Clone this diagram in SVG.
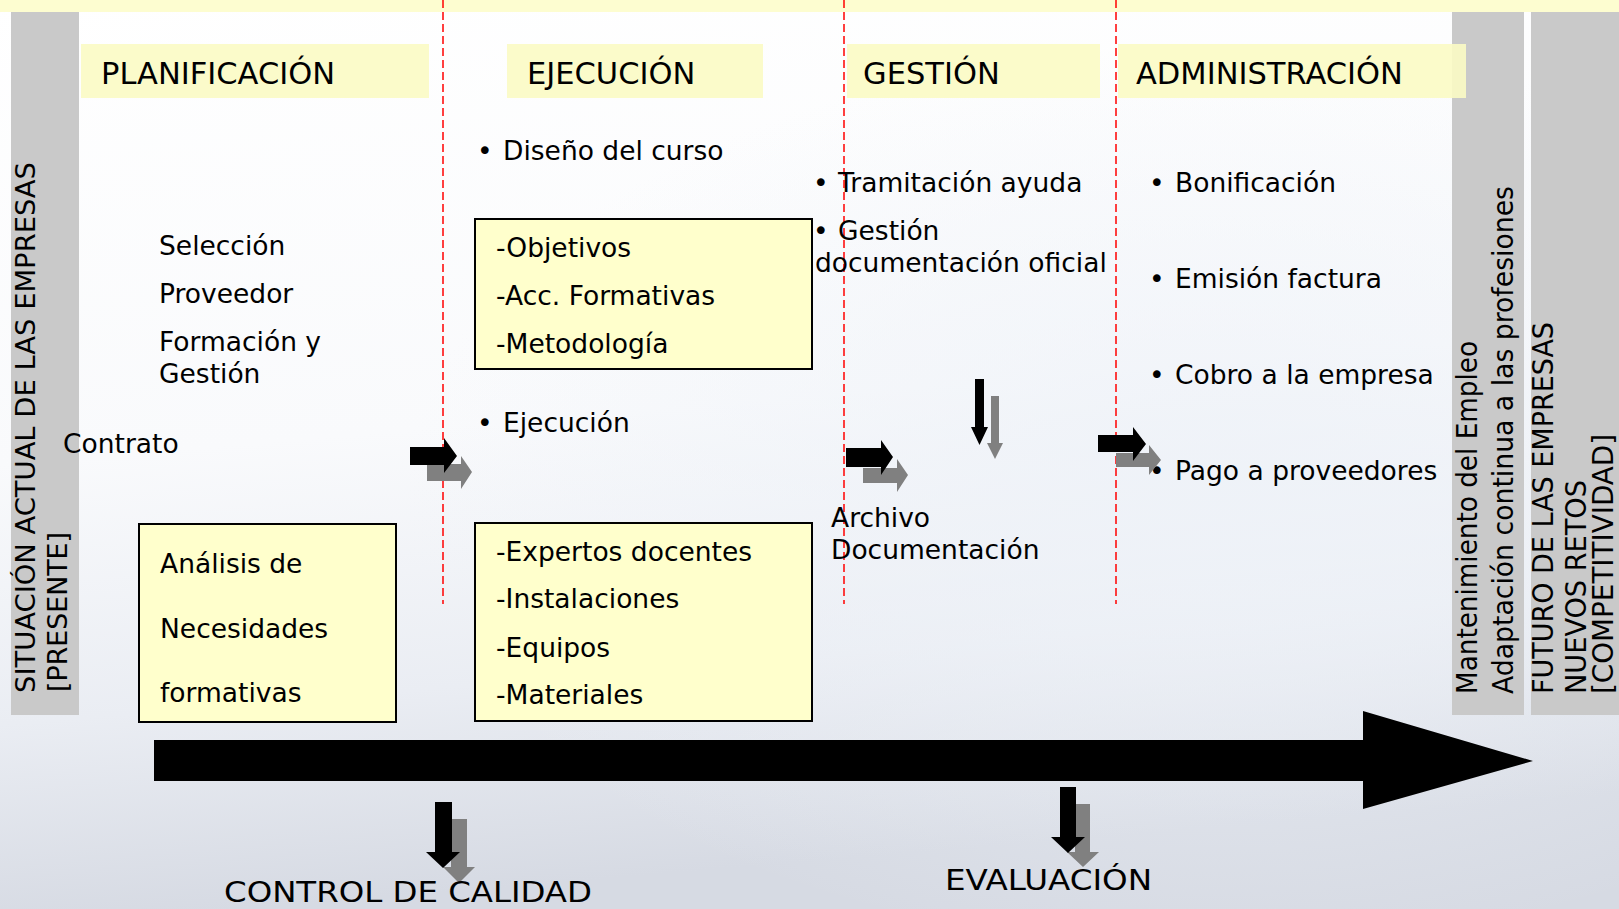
<svg xmlns="http://www.w3.org/2000/svg" width="1619" height="909" viewBox="0 0 1619 909">
<defs>
<linearGradient id="bg" x1="0" y1="0" x2="0.15" y2="1">
<stop offset="0" stop-color="#ffffff"/>
<stop offset="0.5" stop-color="#f9fafc"/>
<stop offset="0.78" stop-color="#eaedf3"/>
<stop offset="1" stop-color="#d6dae3"/>
</linearGradient>
<radialGradient id="glow" cx="0.75" cy="0.55" r="0.5">
<stop offset="0" stop-color="#eef2f8" stop-opacity="0.9"/>
<stop offset="1" stop-color="#eef2f8" stop-opacity="0"/>
</radialGradient>
<style>
.t{font-family:"DejaVu Sans",Verdana,sans-serif;font-size:26.5px;fill:#000}
.h{font-family:"DejaVu Sans",Verdana,sans-serif;font-size:30.5px;fill:#000}
.n{font-family:"Liberation Sans Narrow","DejaVu Sans Condensed","Liberation Sans",sans-serif;font-size:29px;fill:#000}
.hdr{fill:#fbfbc4;fill-opacity:0.9}
.box{fill:#ffffcc;stroke:#000;stroke-width:2}
.bar{fill:#c9c9c9}
.dash{stroke:#ff0000;stroke-width:1.5;stroke-dasharray:8 4;fill:none}
.ab{fill:#000}
.ag{fill:#808080}
</style>
</defs>
<rect x="0" y="0" width="1619" height="909" fill="url(#bg)"/>
<rect x="0" y="0" width="1619" height="909" fill="url(#glow)"/>
<rect x="0" y="0" width="1619" height="12" fill="#fdfdd0"/>

<g id="bar-left">
<rect class="bar" x="11" y="12" width="68" height="703"/>
<text class="t" font-size="28" transform="translate(35,693) rotate(-90)" textLength="531" lengthAdjust="spacingAndGlyphs">SITUACIÓN ACTUAL DE LAS EMPRESAS</text>
<text class="t" font-size="28" transform="translate(67,692) rotate(-90)" textLength="160" lengthAdjust="spacingAndGlyphs">[PRESENTE]</text>
</g>

<g id="bar-right1">
<rect class="bar" x="1452" y="12" width="72" height="703"/>
<text class="n" transform="translate(1477,694) rotate(-90)" textLength="353" lengthAdjust="spacingAndGlyphs">Mantenimiento del Empleo</text>
<text class="n" transform="translate(1513,694) rotate(-90)" textLength="508" lengthAdjust="spacingAndGlyphs">Adaptación continua a las profesiones</text>
</g>
<g id="bar-right2">
<rect class="bar" x="1531" y="12" width="88" height="703"/>
<text class="n" transform="translate(1553,694) rotate(-90)" textLength="372" lengthAdjust="spacingAndGlyphs">FUTURO DE LAS EMPRESAS</text>
<text class="n" transform="translate(1586,694) rotate(-90)" textLength="214" lengthAdjust="spacingAndGlyphs">NUEVOS RETOS</text>
<text class="n" font-size="27" transform="translate(1613,694) rotate(-90)" textLength="260" lengthAdjust="spacingAndGlyphs">[COMPETITIVIDAD]</text>
</g>

<g id="hdr-planificacion"><rect class="hdr" x="81" y="44" width="348" height="54"/><text class="h" x="101" y="84">PLANIFICACIÓN</text></g>
<g id="hdr-ejecucion"><rect class="hdr" x="507" y="44" width="256" height="54"/><text class="h" x="527" y="84">EJECUCIÓN</text></g>
<g id="hdr-gestion"><rect class="hdr" x="847" y="44" width="253" height="54"/><text class="h" x="863" y="84">GESTIÓN</text></g>
<g id="hdr-administracion"><rect class="hdr" x="1118" y="44" width="348" height="54"/><text class="h" x="1136" y="84">ADMINISTRACIÓN</text></g>

<g id="dividers">
<line class="dash" x1="443" y1="0" x2="443" y2="604"/>
<line class="dash" x1="844" y1="0" x2="844" y2="604"/>
<line class="dash" x1="1116" y1="0" x2="1116" y2="604"/>
</g>

<g id="planificacion">
<text class="t" x="159" y="255">Selección</text>
<text class="t" x="159" y="303">Proveedor</text>
<text class="t" x="159" y="351">Formación y</text>
<text class="t" x="159" y="383">Gestión</text>
<text class="t" x="63" y="453">Contrato</text>
</g>
<g id="analisis">
<rect class="box" x="139" y="524" width="257" height="198"/>
<text class="t" x="160" y="573">Análisis de</text>
<text class="t" x="160" y="638">Necesidades</text>
<text class="t" x="160" y="702">formativas</text>
</g>

<g id="ejecucion">
<text class="t" x="477" y="160">•</text><text class="t" x="503" y="160">Diseño del curso</text>
<text class="t" x="477" y="432">•</text><text class="t" x="503" y="432">Ejecución</text>
</g>
<g id="box-objetivos">
<rect class="box" x="475" y="219" width="337" height="150"/>
<text class="t" x="496" y="257">-Objetivos</text>
<text class="t" x="496" y="305">-Acc. Formativas</text>
<text class="t" x="496" y="353">-Metodología</text>
</g>
<g id="box-recursos">
<rect class="box" x="475" y="523" width="337" height="198"/>
<text class="t" x="496" y="561">-Expertos docentes</text>
<text class="t" x="496" y="608">-Instalaciones</text>
<text class="t" x="496" y="657">-Equipos</text>
<text class="t" x="496" y="704">-Materiales</text>
</g>

<g id="gestion">
<text class="t" x="813" y="192">•</text><text class="t" x="838" y="192">Tramitación ayuda</text>
<text class="t" x="813" y="240">•</text><text class="t" x="838" y="240">Gestión</text>
<text class="t" x="815" y="272">documentación oficial</text>
<text class="t" x="831" y="527">Archivo</text>
<text class="t" x="831" y="559">Documentación</text>
</g>

<g id="administracion">
<text class="t" x="1149" y="192">•</text><text class="t" x="1175" y="192">Bonificación</text>
<text class="t" x="1149" y="288">•</text><text class="t" x="1175" y="288">Emisión factura</text>
<text class="t" x="1149" y="384">•</text><text class="t" x="1175" y="384">Cobro a la empresa</text>
<text class="t" x="1149" y="480">•</text><text class="t" x="1175" y="480">Pago a proveedores</text>
</g>

<g id="connectors">
<polygon class="ab" points="154,740 1363,740 1363,711 1533,761 1363,809 1363,781 154,781"/>
<polygon class="ag" points="427,464 461,464 461,456 472,472 461,489 461,481 427,481"/>
<polygon class="ab" points="410,447 444,447 444,438 457,456 444,473 444,465 410,465"/>
<polygon class="ag" points="863,468 897,468 897,459 908,475 897,492 897,483 863,483"/>
<polygon class="ab" points="846,448 881,448 881,440 893,457 881,475 881,467 846,467"/>
<polygon class="ag" points="1116,453 1149,453 1149,445 1161,460 1149,475 1149,467 1116,467"/>
<polygon class="ab" points="1098,435 1133,435 1133,427 1146,444 1133,461 1133,452 1098,452"/>
<polygon class="ag" points="991,396 999,396 999,443 1003,443 995,459 987,443 991,443"/>
<polygon class="ab" points="975,379 984,379 984,427 988,427 979.5,445 971,427 975,427"/>
<polygon class="ag" points="451,819 467,819 467,867 475,867 459,883 443,867 451,867"/>
<polygon class="ab" points="435,802 452,802 452,852 460,852 443,868 426,852 435,852"/>
<polygon class="ag" points="1075,804 1090,804 1090,852 1099,852 1083,867 1067,852 1075,852"/>
<polygon class="ab" points="1060,787 1076,787 1076,837 1085,837 1068,853 1051,837 1060,837"/>
</g>

<g id="control-calidad"><text class="n" font-size="30" x="224" y="902" textLength="368" lengthAdjust="spacingAndGlyphs">CONTROL DE CALIDAD</text></g>
<g id="evaluacion"><text class="n" font-size="30" x="945" y="890" textLength="207" lengthAdjust="spacingAndGlyphs">EVALUACIÓN</text></g>
</svg>
